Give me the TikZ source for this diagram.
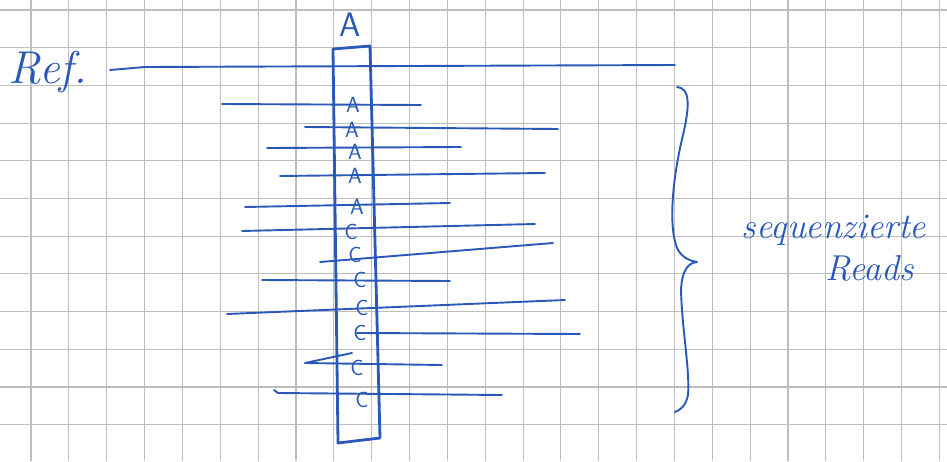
\documentclass[tikz,border=0pt]{standalone}
\definecolor{ink}{RGB}{42,88,185}
\definecolor{gridgray}{RGB}{190,190,190}
\tikzset{
  ink/.style={draw=ink, line width=1.9pt, line cap=round, line join=round},
  colline/.style={draw=ink, line width=2.8pt, line join=round},
  base/.style={text=ink, inner sep=0pt, font=\sffamily\fontsize{22}{22}\selectfont},
  hand/.style={text=ink, inner sep=0pt, font=\itshape\fontsize{36}{36}\selectfont},
}
\begin{document}
\begin{tikzpicture}[x=1pt,y=-1pt]
\useasboundingbox (0,0) rectangle (947,461);
\fill[white] (0,0) rectangle (947,461);
% graph paper
\foreach \i in {0,...,24} {
  \draw[gridgray, line width=1.1pt] ({31+37.85*\i},0) -- ({31+37.85*\i},461);
}
\foreach \j in {0,...,12} {
  \draw[gridgray, line width=1.1pt] (0,{10+37.7*\j}) -- (947,{10+37.7*\j});
}
% reference
\node[hand, font=\itshape\fontsize{46}{46}\selectfont] (ref) at (48,72) {Ref.};
\draw[ink] (110,70) -- (145,67) -- (675,65);
% column
\draw[colline] (333,49) -- (370,46) -- (380,438) -- (338,443) -- cycle;
\node[base, font=\sffamily\fontsize{34}{34}\selectfont] (top) at (350,25) {A};
% reads
\draw[ink] (222,104) -- (421,105);
\draw[ink] (305,127) -- (558,129);
\draw[ink] (267,148) -- (461,147);
\draw[ink] (280,176) -- (545,173);
\draw[ink] (245,207) -- (450,203);
\draw[ink] (242,231) -- (535,224);
\draw[ink] (320,262) -- (553,243);
\draw[ink] (262,280) -- (450,281);
\draw[ink] (227,314) -- (565,300);
\draw[ink] (357,333) -- (580,334);
\draw[ink] (352,353) -- (305,363) -- (442,365);
\draw[ink] (274,390) -- (278,393) -- (502,395);
% bases
\node[base] (b1) at (353,105) {A};
\node[base] (b2) at (352,130) {A};
\node[base] (b3) at (355,152) {A};
\node[base] (b4) at (355,176) {A};
\node[base] (b5) at (357,207) {A};
\node[base] (b6) at (351,232) {C};
\node[base] (b7) at (355,255) {C};
\node[base] (b8) at (360,280) {C};
\node[base] (b9) at (362,308) {C};
\node[base] (b10) at (360,333) {C};
\node[base] (b11) at (357,368) {C};
\node[base] (b12) at (362,400) {C};
% brace
\draw[ink] (677,87) .. controls (690,88) and (690,105) .. (683,135)
  .. controls (672,180) and (668,230) .. (678,250)
  .. controls (683,258) and (690,261) .. (697,262)
  .. controls (688,263) and (682,270) .. (681,290)
  .. controls (682,330) and (690,370) .. (688,395)
  .. controls (686,405) and (681,410) .. (675,412);
% label
\node[hand] (lbl1) at (834,230) {sequenzierte};
\node[hand] (lbl2) at (870,268) {Reads};
\end{tikzpicture}
\end{document}
